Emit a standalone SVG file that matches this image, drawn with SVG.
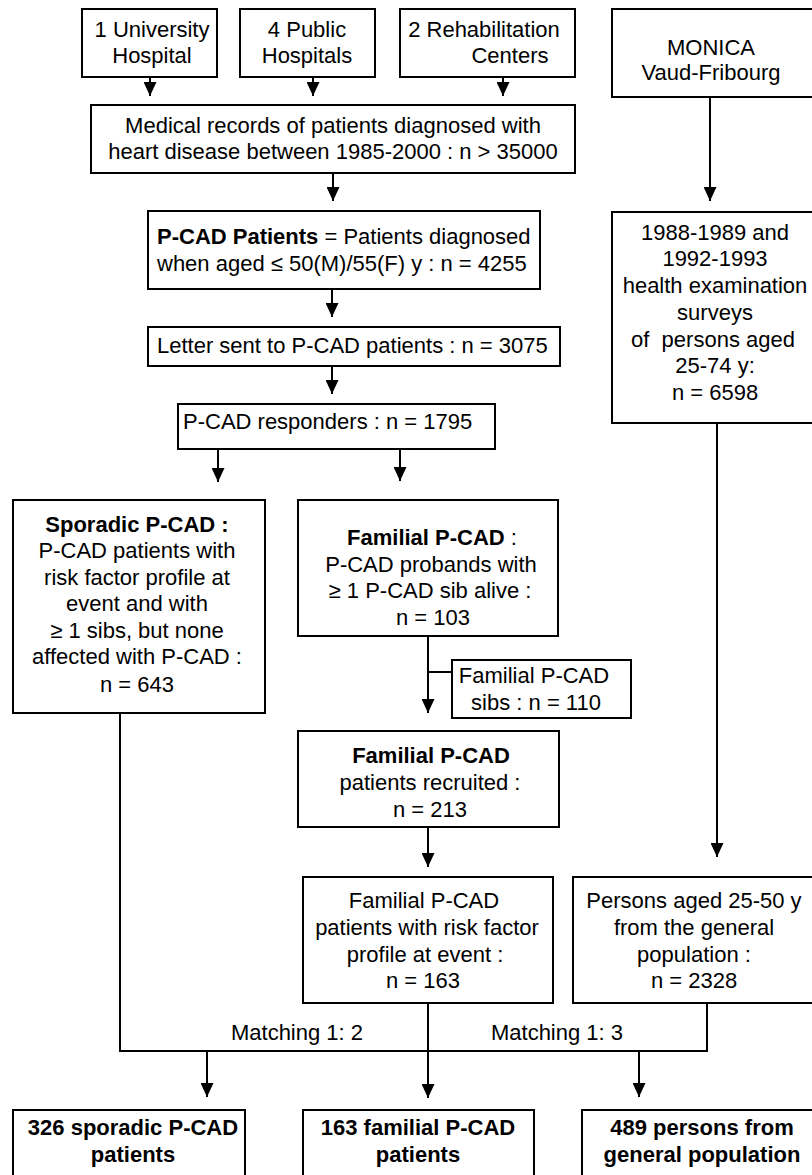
<svg xmlns="http://www.w3.org/2000/svg" width="812" height="1175" viewBox="0 0 812 1175">
<style>
  .box { fill: #fff; stroke: #000; stroke-width: 2; }
  .t { font-family: "Liberation Sans", Arial, sans-serif; font-size: 22px; fill: #000; text-anchor: middle; }
  .s { text-anchor: start; }
  .b { font-weight: bold; }
  .ln { fill: none; stroke: #000; stroke-width: 2; }
</style>
<defs>
  <marker id="arr" viewBox="0 0 14 13" refX="14" refY="6.5" markerWidth="14" markerHeight="13" markerUnits="userSpaceOnUse" orient="auto">
    <path d="M0,0 L14,6.5 L0,13 Z" fill="#000"/>
  </marker>
</defs>
<rect width="812" height="1175" fill="#fff"/>

<g id="connectors">
  <line class="ln" x1="150" y1="77" x2="150" y2="96" marker-end="url(#arr)"/>
  <line class="ln" x1="313" y1="77" x2="313" y2="96" marker-end="url(#arr)"/>
  <line class="ln" x1="503" y1="77" x2="503" y2="96" marker-end="url(#arr)"/>
  <line class="ln" x1="333" y1="173" x2="333" y2="201" marker-end="url(#arr)"/>
  <line class="ln" x1="332" y1="289" x2="332" y2="317" marker-end="url(#arr)"/>
  <line class="ln" x1="332" y1="366" x2="332" y2="394" marker-end="url(#arr)"/>
  <line class="ln" x1="218" y1="449" x2="218" y2="482" marker-end="url(#arr)"/>
  <line class="ln" x1="400" y1="449" x2="400" y2="481" marker-end="url(#arr)"/>
  <line class="ln" x1="710" y1="97" x2="710" y2="201" marker-end="url(#arr)"/>
  <line class="ln" x1="428" y1="636" x2="428" y2="713" marker-end="url(#arr)"/>
  <line class="ln" x1="428" y1="672" x2="453" y2="672"/>
  <line class="ln" x1="428" y1="827" x2="428" y2="867" marker-end="url(#arr)"/>
  <line class="ln" x1="717" y1="423" x2="717" y2="857" marker-end="url(#arr)"/>
  <line class="ln" x1="428" y1="1003" x2="428" y2="1098" marker-end="url(#arr)"/>
  <polyline class="ln" points="120,713 120,1051 707,1051 707,1003"/>
  <line class="ln" x1="207" y1="1051" x2="207" y2="1097" marker-end="url(#arr)"/>
  <line class="ln" x1="639" y1="1051" x2="639" y2="1097" marker-end="url(#arr)"/>
  <text class="t" x="297" y="1040">Matching 1: 2</text>
  <text class="t" x="557" y="1040">Matching 1: 3</text>
</g>

<g id="university">
  <rect class="box" x="82" y="9" width="135" height="68"/>
  <text class="t" x="152" y="37">1 University</text>
  <text class="t" x="152" y="63">Hospital</text>
</g>
<g id="public">
  <rect class="box" x="240" y="9" width="135" height="68"/>
  <text class="t" x="307" y="37">4 Public</text>
  <text class="t" x="307" y="63">Hospitals</text>
</g>
<g id="rehab">
  <rect class="box" x="400" y="9" width="175" height="68"/>
  <text class="t" x="484" y="37">2 Rehabilitation</text>
  <text class="t" x="510" y="63">Centers</text>
</g>
<g id="monica">
  <rect class="box" x="612" y="9" width="205" height="88"/>
  <text class="t" x="711" y="55">MONICA</text>
  <text class="t" x="711" y="80">Vaud-Fribourg</text>
</g>
<g id="records">
  <rect class="box" x="91" y="105" width="484" height="68"/>
  <text class="t" x="333" y="133">Medical records of patients diagnosed with</text>
  <text class="t" x="333" y="159">heart disease between 1985-2000 : n &gt; 35000</text>
</g>
<g id="pcad">
  <rect class="box" x="148" y="211" width="392" height="78"/>
  <text class="t s" x="157" y="244"><tspan class="b">P-CAD Patients</tspan> = Patients diagnosed</text>
  <text class="t s" x="157" y="271">when aged ≤ 50(M)/55(F) y : n = 4255</text>
</g>
<g id="letter">
  <rect class="box" x="148" y="327" width="412" height="39"/>
  <text class="t s" x="157" y="353">Letter sent to P-CAD patients : n = 3075</text>
</g>
<g id="responders">
  <rect class="box" x="178" y="404" width="317" height="45"/>
  <text class="t s" x="183" y="429">P-CAD responders : n = 1795</text>
</g>
<g id="surveys">
  <rect class="box" x="612" y="212" width="205" height="211"/>
  <text class="t" x="715" y="240">1988-1989 and</text>
  <text class="t" x="715" y="266">1992-1993</text>
  <text class="t" x="715" y="293">health examination</text>
  <text class="t" x="715" y="320">surveys</text>
  <text class="t" x="713" y="347" xml:space="preserve">of  persons aged</text>
  <text class="t" x="715" y="373">25-74 y:</text>
  <text class="t" x="715" y="400">n = 6598</text>
</g>
<g id="sporadic">
  <rect class="box" x="13" y="500" width="252" height="213"/>
  <text class="t b" x="137" y="532">Sporadic P-CAD :</text>
  <text class="t" x="137" y="558">P-CAD patients with</text>
  <text class="t" x="137" y="585">risk factor profile at</text>
  <text class="t" x="137" y="611">event and with</text>
  <text class="t" x="137" y="638">≥ 1 sibs, but none</text>
  <text class="t" x="137" y="664">affected with P-CAD :</text>
  <text class="t" x="137" y="692">n = 643</text>
</g>
<g id="familial">
  <rect class="box" x="298" y="500" width="260" height="136"/>
  <text class="t" x="432" y="545"><tspan class="b">Familial P-CAD</tspan> :</text>
  <text class="t" x="431" y="572">P-CAD probands with</text>
  <text class="t" x="430" y="598">≥ 1 P-CAD sib alive :</text>
  <text class="t" x="433" y="625">n = 103</text>
</g>
<g id="sibs">
  <rect class="box" x="452" y="660" width="179" height="58"/>
  <text class="t" x="534" y="683">Familial P-CAD</text>
  <text class="t" x="536" y="710">sibs : n = 110</text>
</g>
<g id="recruited">
  <rect class="box" x="298" y="731" width="261" height="96"/>
  <text class="t b" x="431" y="763">Familial P-CAD</text>
  <text class="t" x="430" y="790">patients recruited :</text>
  <text class="t" x="430" y="817">n = 213</text>
</g>
<g id="riskfactor">
  <rect class="box" x="303" y="877" width="250" height="126"/>
  <text class="t" x="424" y="908">Familial P-CAD</text>
  <text class="t" x="427" y="935">patients with risk factor</text>
  <text class="t" x="425" y="962">profile at event :</text>
  <text class="t" x="423" y="988">n = 163</text>
</g>
<g id="persons">
  <rect class="box" x="573" y="877" width="244" height="126"/>
  <text class="t" x="694" y="908">Persons aged 25-50 y</text>
  <text class="t" x="694" y="935">from the general</text>
  <text class="t" x="694" y="962">population :</text>
  <text class="t" x="694" y="988">n = 2328</text>
</g>
<g id="out-sporadic">
  <rect class="box" x="13" y="1110" width="232" height="80"/>
  <text class="t b" x="133" y="1135">326 sporadic P-CAD</text>
  <text class="t b" x="133" y="1162">patients</text>
</g>
<g id="out-familial">
  <rect class="box" x="303" y="1110" width="231" height="80"/>
  <text class="t b" x="418" y="1135">163 familial P-CAD</text>
  <text class="t b" x="418" y="1162">patients</text>
</g>
<g id="out-general">
  <rect class="box" x="582" y="1110" width="235" height="80"/>
  <text class="t b" x="702" y="1135">489 persons from</text>
  <text class="t b" x="702" y="1162">general population</text>
</g>
</svg>
